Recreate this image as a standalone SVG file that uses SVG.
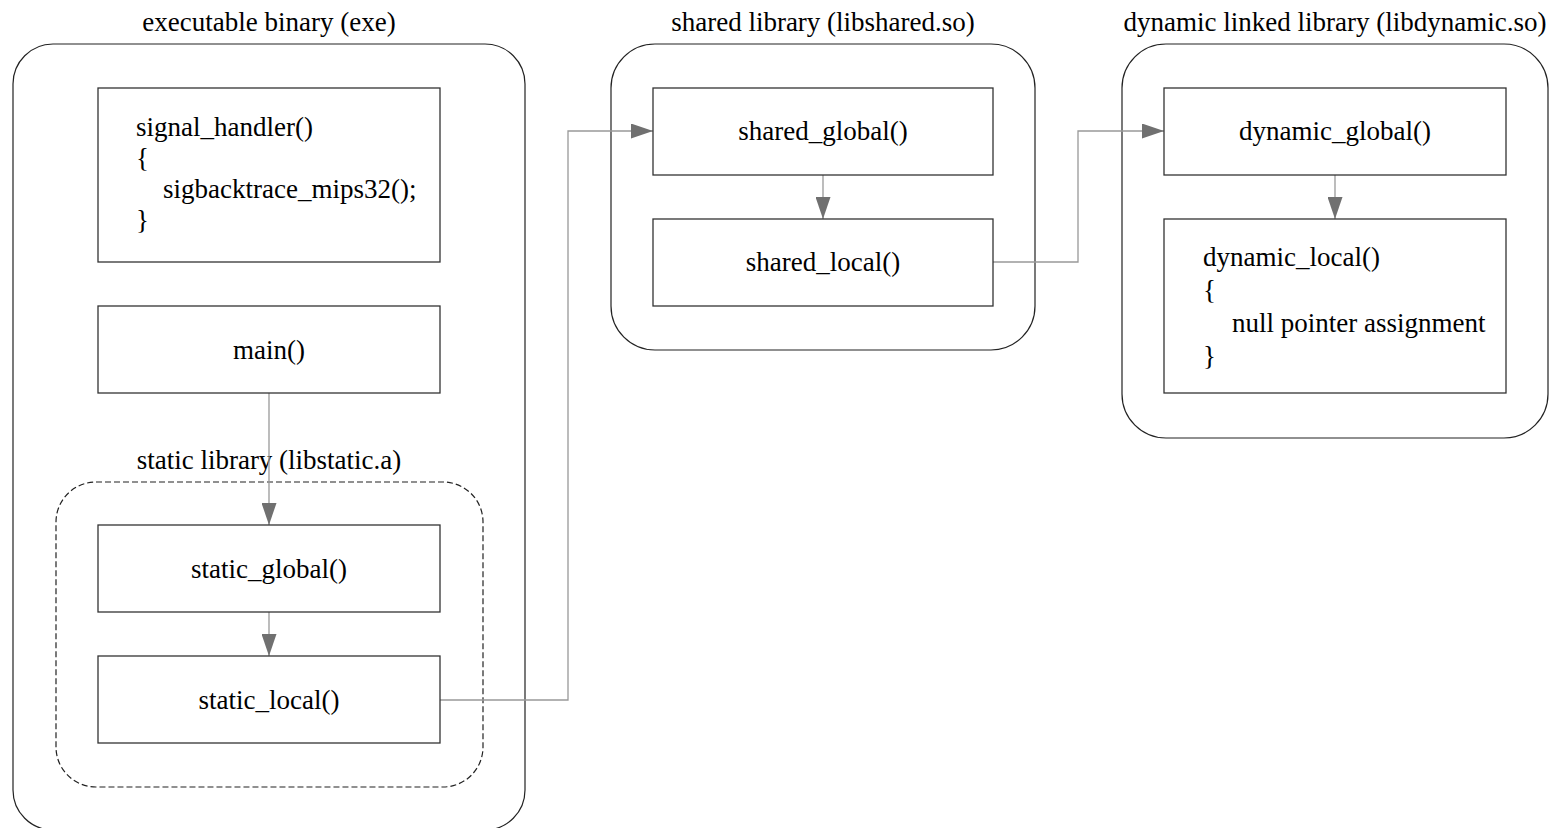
<svg xmlns="http://www.w3.org/2000/svg" width="1554" height="828" viewBox="0 0 1554 828">
  <defs>
    <marker id="arrow" viewBox="0 0 22 15" refX="22" refY="7.5" markerWidth="22" markerHeight="15" markerUnits="userSpaceOnUse" orient="auto">
      <path d="M0,0 L22,7.5 L0,15 Z" fill="#707070"/>
    </marker>
    <style>
      text { font-family: 'Liberation Serif', 'Times New Roman', Times, serif; font-size: 27px; fill: #000; }
      .mid { text-anchor: middle; }
      .container { fill: none; stroke: #222; stroke-width: 1.2; }
      .dashed { fill: none; stroke: #222; stroke-width: 1.2; stroke-dasharray: 6 3; }
      .box { fill: #fff; stroke: #333; stroke-width: 1.3; }
      .link { fill: none; stroke: #999; stroke-width: 1.3; marker-end: url(#arrow); }
    </style>
  </defs>
  <rect width="1554" height="828" fill="#fff"/>

  <!-- executable container -->
  <g id="exe">
    <rect class="container" x="13" y="44" width="512" height="786" rx="40"/>
    <text class="mid" x="269" y="31">executable binary (exe)</text>
  </g>
  <g id="static-lib">
    <rect class="dashed" x="56" y="482" width="427" height="305" rx="40"/>
    <text class="mid" x="269" y="469">static library (libstatic.a)</text>
  </g>

  <!-- shared library container -->
  <g id="shared-lib">
    <rect class="container" x="611" y="44" width="424" height="306" rx="44"/>
    <text class="mid" x="823" y="31">shared library (libshared.so)</text>
  </g>

  <!-- dynamic library container -->
  <g id="dynamic-lib">
    <rect class="container" x="1122" y="44" width="426" height="394" rx="44"/>
    <text class="mid" x="1335" y="31">dynamic linked library (libdynamic.so)</text>
  </g>

  <!-- connectors -->
  <g id="connectors">
    <path class="link" d="M269,393 V525"/>
    <path class="link" d="M269,612 V656"/>
    <path class="link" d="M440,700 H568 V131 H653"/>
    <path class="link" d="M823,175 V219"/>
    <path class="link" d="M993,262 H1078 V131 H1164"/>
    <path class="link" d="M1335,175 V219"/>
  </g>

  <!-- function nodes -->
  <g id="signal_handler">
    <rect class="box" x="98" y="88" width="342" height="174"/>
    <text x="136" y="136">signal_handler()</text>
    <text x="136" y="167">{</text>
    <text x="163" y="198">sigbacktrace_mips32();</text>
    <text x="136" y="229">}</text>
  </g>
  <g id="main">
    <rect class="box" x="98" y="306" width="342" height="87"/>
    <text class="mid" x="269" y="359">main()</text>
  </g>
  <g id="static_global">
    <rect class="box" x="98" y="525" width="342" height="87"/>
    <text class="mid" x="269" y="578">static_global()</text>
  </g>
  <g id="static_local">
    <rect class="box" x="98" y="656" width="342" height="87"/>
    <text class="mid" x="269" y="709">static_local()</text>
  </g>
  <g id="shared_global">
    <rect class="box" x="653" y="88" width="340" height="87"/>
    <text class="mid" x="823" y="140">shared_global()</text>
  </g>
  <g id="shared_local">
    <rect class="box" x="653" y="219" width="340" height="87"/>
    <text class="mid" x="823" y="271">shared_local()</text>
  </g>
  <g id="dynamic_global">
    <rect class="box" x="1164" y="88" width="342" height="87"/>
    <text class="mid" x="1335" y="140">dynamic_global()</text>
  </g>
  <g id="dynamic_local">
    <rect class="box" x="1164" y="219" width="342" height="174"/>
    <text x="1203" y="266">dynamic_local()</text>
    <text x="1203" y="299">{</text>
    <text x="1232" y="332">null pointer assignment</text>
    <text x="1203" y="365">}</text>
  </g>
</svg>
